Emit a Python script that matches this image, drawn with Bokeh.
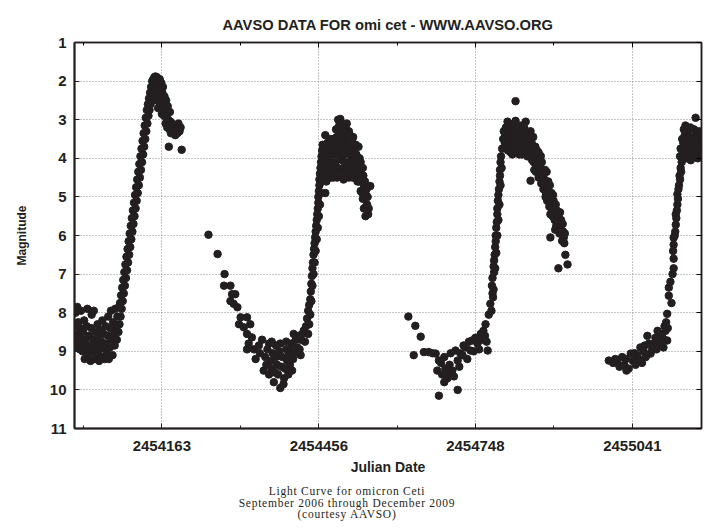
from bokeh.plotting import figure
from bokeh.layouts import column
from bokeh.models import (Range1d, FixedTicker, LinearAxis, BasicTickFormatter,
                          CustomJSTickFormatter, Div)
from bokeh.embed import file_html
from bokeh.resources import INLINE

# ---- data: Julian Date and visual magnitude ----
c1_jd = [2454000, 2454001, 2454002, 2454003, 2454004, 2454005, 2454007, 2454009, 2454010, 2454011,
         2454012, 2454014, 2454015, 2454016, 2454018, 2454019, 2454020, 2454022, 2454023, 2454024,
         2454026, 2454027, 2454028, 2454030, 2454031, 2454032, 2454034, 2454035, 2454036, 2454038,
         2454039, 2454040, 2454042, 2454043, 2454044, 2454046, 2454047, 2454048, 2454050, 2454051,
         2454052, 2454054, 2454055, 2454056, 2454058, 2454059, 2454060, 2454062, 2454063, 2454064,
         2454066, 2454067, 2454068, 2454070, 2454071, 2454072, 2454074, 2454075, 2454076, 2454078,
         2454079, 2454080, 2454082, 2454083, 2454084,
         2454085, 2454086, 2454087, 2454088, 2454089, 2454090, 2454091, 2454092, 2454093, 2454094,
         2454095, 2454096, 2454097, 2454098, 2454099, 2454100, 2454101, 2454102, 2454103, 2454104,
         2454105, 2454106, 2454107, 2454108, 2454109, 2454110, 2454111, 2454112, 2454113, 2454114,
         2454115, 2454116, 2454117, 2454118, 2454119, 2454120, 2454121, 2454122, 2454123, 2454124,
         2454125, 2454126, 2454127, 2454128, 2454129, 2454130, 2454131, 2454132, 2454133, 2454134,
         2454135, 2454136, 2454137, 2454138, 2454139, 2454140, 2454141, 2454142, 2454143, 2454144,
         2454145, 2454146, 2454147, 2454148, 2454149, 2454150, 2454151, 2454152, 2454153, 2454154,
         2454155, 2454156, 2454157, 2454158, 2454159, 2454160, 2454161, 2454162, 2454163, 2454164,
         2454165, 2454166, 2454167, 2454168, 2454169, 2454170, 2454171, 2454172, 2454173, 2454174,
         2454175, 2454176, 2454177, 2454178, 2454179, 2454180, 2454182, 2454184, 2454186, 2454188,
         2454190, 2454192, 2454194, 2454196, 2454198, 2454200]
c1_mag = [8.35, 8.75, 8.0, 8.9, 8.55, 7.85, 8.25, 8.65, 8.95, 8.4,
          7.95, 8.8, 9.0, 8.5, 8.2, 9.2, 8.7, 8.95, 8.35, 7.9,
          9.1, 8.6, 8.85, 9.25, 8.4, 8.05, 9.0, 8.7, 7.95, 9.2,
          8.5, 8.85, 9.1, 8.3, 8.65, 9.25, 8.95, 8.45, 8.75, 9.15,
          8.2, 8.9, 8.55, 9.2, 8.35, 8.8, 9.05, 8.6, 8.1, 9.2,
          8.9, 8.4, 7.95, 8.7, 9.1, 8.25, 8.55, 8.85, 7.9, 8.4,
          8.7, 8.1, 8.5, 7.85, 8.3,
          7.75, 8.1, 7.55, 7.9, 7.35, 7.7, 7.15, 7.5, 6.95, 7.3,
          6.75, 7.1, 6.55, 6.9, 6.35, 6.7, 6.15, 6.5, 5.95, 6.3,
          5.75, 6.1, 5.55, 5.9, 5.35, 5.7, 5.15, 5.5, 4.95, 5.3,
          4.75, 5.1, 4.55, 4.9, 4.35, 4.7, 4.15, 4.5, 3.95, 4.3,
          3.75, 4.1, 3.55, 3.9, 3.35, 3.7, 3.15, 3.5, 2.95, 3.3,
          2.75, 3.1, 2.6, 2.9, 2.45, 2.75, 2.3, 2.6, 2.15, 2.45,
          2.0, 2.3, 1.95, 2.15, 1.9, 2.35, 1.88, 2.1, 2.5, 1.9,
          2.2, 2.7, 2.0, 2.4, 1.95, 2.25, 2.6, 2.05, 2.85, 2.3,
          2.15, 2.55, 2.9, 2.4, 2.7, 3.1, 2.5, 2.85, 3.2, 2.65,
          3.0, 3.7, 3.25, 2.8, 3.05, 3.35, 3.1, 3.3, 3.15, 3.4,
          3.2, 3.35, 3.1, 3.3, 3.2, 3.78]

c2_jd = [2454250, 2454267, 2454280, 2454279, 2454291, 2454294, 2454300, 2454291, 2454297, 2454304,
         2454310, 2454322, 2454307, 2454316, 2454328, 2454322, 2454331, 2454325, 2454322, 2454338,
         2454335, 2454344, 2454350, 2454363, 2454384, 2454356, 2454353, 2454363, 2454372, 2454384,
         2454391, 2454378, 2454397, 2454406, 2454403, 2454409, 2454416, 2454422, 2454428, 2454422,
         2454346, 2454358, 2454360, 2454366, 2454368, 2454370, 2454374, 2454376, 2454380, 2454382,
         2454386, 2454388, 2454390, 2454393, 2454395, 2454399, 2454400, 2454402, 2454405, 2454408,
         2454411, 2454413, 2454418, 2454420, 2454425, 2454430, 2454432, 2454436, 2454376, 2454368,
         2454395, 2454434, 2454436, 2454438, 2454440, 2454441, 2454442, 2454443, 2454444, 2454445,
         2454446, 2454447, 2454448, 2454449, 2454450, 2454451, 2454452, 2454453, 2454454, 2454455,
         2454455, 2454456, 2454457, 2454457, 2454458, 2454459, 2454460, 2454461, 2454462, 2454463,
         2454438, 2454440, 2454442, 2454444, 2454446, 2454448, 2454450, 2454452, 2454454, 2454456,
         2454458, 2454460, 2454462, 2454464, 2454466, 2454484, 2454492, 2454496, 2454512, 2454465,
         2454468, 2454470, 2454472, 2454474, 2454476, 2454478, 2454480, 2454482, 2454486, 2454488,
         2454490, 2454494, 2454498, 2454500, 2454502, 2454504, 2454506, 2454508, 2454510, 2454514,
         2454516, 2454518, 2454520, 2454522, 2454524, 2454526, 2454528, 2454530, 2454532, 2454534,
         2454536, 2454538, 2454540, 2454540, 2454543, 2454544, 2454546, 2454548, 2454552, 2454478,
         2454484, 2454490, 2454496, 2454502, 2454508, 2454512, 2454470, 2454468, 2454466, 2454488,
         2454500, 2454506,
         2454466, 2454468, 2454471, 2454473, 2454475, 2454477, 2454479, 2454481, 2454483, 2454485,
         2454487, 2454489, 2454491, 2454493, 2454495, 2454497, 2454499, 2454501, 2454503, 2454505,
         2454507, 2454509, 2454511, 2454513, 2454515, 2454517, 2454519, 2454521, 2454523, 2454525,
         2454527, 2454529, 2454531, 2454533, 2454535, 2454537, 2454539, 2454541, 2454542, 2454545,
         2454547, 2454549, 2454520, 2454510, 2454526, 2454530, 2454534, 2454538, 2454544, 2454494,
         2454498, 2454504, 2454508, 2454514, 2454518]
c2_mag = [5.98, 6.48, 7.0, 7.3, 7.3, 7.52, 7.52, 7.7, 7.77, 7.86,
          8.12, 8.12, 8.3, 8.38, 8.3, 8.55, 8.64, 8.8, 8.95, 9.2,
          8.95, 8.85, 8.7, 8.8, 8.8, 9.15, 9.5, 9.6, 9.8, 9.95,
          9.7, 9.35, 9.25, 9.5, 8.98, 8.55, 8.9, 8.7, 8.46, 9.1,
          9.05, 9.35, 8.95, 9.25, 9.45, 9.05, 9.55, 9.15, 9.6, 9.0,
          9.4, 9.15, 9.85, 9.45, 8.95, 9.6, 9.1, 9.35, 8.8, 9.2,
          9.05, 8.7, 8.6, 8.95, 8.55, 8.75, 8.35, 8.55, 8.85, 8.75,
          8.75, 8.15, 7.95, 7.8, 7.65, 7.45, 7.25, 7.05, 6.85, 6.7,
          6.5, 6.35, 6.2, 6.05, 5.9, 5.75, 5.6, 5.45, 5.3, 5.15,
          5.0, 4.85, 4.7, 4.55, 4.4, 4.25, 4.1, 3.95, 3.8, 3.65,
          8.3, 8.05, 7.7, 7.3, 7.0, 6.7, 6.4, 6.1, 5.8, 5.5,
          5.2, 4.9, 4.6, 4.3, 4.0, 3.5, 3.0, 2.98, 3.3, 3.7,
          3.4, 4.0, 3.6, 4.3, 3.8, 3.5, 4.1, 3.7, 3.9, 4.2,
          3.6, 3.4, 3.75, 4.05, 3.55, 4.3, 3.85, 3.6, 4.1, 3.9,
          4.4, 3.7, 4.2, 3.95, 4.5, 4.15, 4.6, 4.35, 4.0, 4.85,
          4.55, 5.05, 4.7, 5.3, 5.5, 4.95, 5.2, 5.45, 4.72, 4.5,
          4.35, 4.5, 4.3, 4.55, 4.45, 4.5, 4.6, 4.9, 4.45, 3.25,
          3.3, 3.2,
          3.9, 4.15, 3.75, 4.45, 4.05, 3.65, 4.25, 3.9, 4.5, 3.6,
          4.1, 3.45, 3.85, 4.4, 3.7, 4.0, 3.5, 4.25, 3.9, 4.5,
          3.7, 4.2, 3.5, 4.35, 3.75, 4.05, 4.5, 3.85, 4.3, 3.65,
          4.45, 4.0, 4.6, 4.25, 4.4, 4.9, 4.45, 5.0, 4.6, 4.8,
          5.0, 5.3, 3.45, 3.3, 3.9, 3.7, 4.1, 4.25, 5.25, 3.15,
          3.1, 3.35, 3.1, 3.4, 3.5]

c3_jd = [2454623, 2454636, 2454646, 2454633, 2454652, 2454661, 2454674, 2454680, 2454677, 2454686,
         2454696, 2454680, 2454715, 2454705, 2454715, 2454711, 2454724, 2454730, 2454739, 2454742,
         2454752, 2454758, 2454763, 2454771, 2454767, 2454773, 2454668, 2454684, 2454690, 2454692,
         2454700, 2454702, 2454708, 2454718, 2454720, 2454726, 2454733, 2454736, 2454745, 2454748,
         2454755, 2454760, 2454766, 2454769, 2454690, 2454697, 2454776, 2454780, 2454782, 2454780,
         2454782, 2454784, 2454786, 2454787, 2454789, 2454790, 2454792, 2454794, 2454795, 2454798,
         2454800, 2454801, 2454778, 2454779, 2454781, 2454783, 2454783, 2454785, 2454786, 2454788,
         2454789, 2454791, 2454793, 2454794, 2454796, 2454797, 2454795, 2454793, 2454791, 2454789,
         2454787, 2454785, 2454808, 2454823, 2454823, 2454842, 2454851, 2454804, 2454806, 2454810,
         2454812, 2454814, 2454816, 2454818, 2454820, 2454826, 2454828, 2454830, 2454832, 2454834,
         2454836, 2454838, 2454840, 2454844, 2454846, 2454848, 2454850, 2454853, 2454855, 2454857,
         2454851, 2454864, 2454870, 2454875, 2454882, 2454888, 2454870, 2454876, 2454882, 2454888,
         2454895, 2454901, 2454907, 2454910, 2454888, 2454916, 2454920, 2454903, 2454860, 2454862,
         2454866, 2454868, 2454872, 2454874, 2454878, 2454880, 2454884, 2454886, 2454890, 2454892,
         2454894, 2454897, 2454899, 2454903, 2454905, 2454908, 2454912, 2454914, 2454858, 2454856,
         2454866, 2454879, 2454897,
         2454803, 2454805, 2454807, 2454809, 2454811, 2454813, 2454815, 2454817, 2454819, 2454821,
         2454822, 2454824, 2454825, 2454827, 2454829, 2454831, 2454833, 2454835, 2454837, 2454839,
         2454841, 2454843, 2454845, 2454847, 2454849, 2454852, 2454854, 2454856, 2454859, 2454861,
         2454863, 2454865, 2454867, 2454869, 2454871, 2454873, 2454877, 2454881, 2454883, 2454885,
         2454887, 2454889, 2454891, 2454893, 2454896, 2454898, 2454900, 2454902, 2454904, 2454906,
         2454909, 2454911, 2454913, 2454915]
c3_mag = [8.1, 8.34, 8.62, 9.1, 9.02, 9.02, 9.06, 9.24, 9.5, 9.6,
          9.7, 10.15, 10.0, 9.5, 9.24, 8.98, 9.1, 8.9, 8.98, 8.72,
          8.8, 8.55, 8.47, 8.98, 8.3, 8.05, 9.05, 9.3, 9.15, 9.45,
          9.35, 9.05, 9.65, 9.4, 9.05, 8.85, 9.2, 8.75, 9.0, 8.65,
          8.95, 8.7, 8.6, 8.75, 9.8, 9.55, 7.77, 7.5, 7.4, 7.1,
          6.8, 6.5, 6.15, 5.8, 5.45, 5.1, 4.8, 4.45, 4.1, 3.75,
          3.5, 3.3, 7.95, 7.3, 7.6, 6.95, 6.65, 6.3, 6.0, 5.65,
          5.3, 4.95, 4.6, 4.3, 3.95, 4.25, 4.7, 5.2, 5.6, 6.0,
          6.45, 6.85, 3.05, 3.03, 2.52, 3.05, 3.3, 3.4, 3.7, 3.3,
          3.6, 3.85, 3.2, 3.5, 3.75, 3.3, 3.6, 3.9, 3.4, 3.15,
          3.65, 3.35, 3.8, 3.5, 3.75, 3.4, 3.95, 3.6, 3.85, 4.1,
          4.58, 4.0, 4.45, 4.8, 5.1, 5.45, 3.94, 4.4, 4.7, 5.05,
          5.3, 5.6, 5.8, 6.14, 6.05, 6.5, 6.75, 6.85, 3.7, 4.2,
          3.85, 4.25, 4.1, 4.55, 4.3, 4.9, 4.6, 5.25, 4.9, 5.5,
          5.1, 5.45, 5.75, 5.5, 5.95, 5.6, 5.9, 6.2, 4.3, 3.45,
          4.5, 5.0, 5.85,
          3.6, 3.2, 3.45, 3.8, 3.1, 3.35, 3.65, 3.9, 3.25, 3.55,
          3.1, 3.4, 3.8, 3.15, 3.45, 3.7, 3.25, 3.9, 3.5, 3.2,
          3.6, 3.3, 3.95, 3.55, 3.7, 3.45, 4.05, 3.75, 3.95, 4.35,
          3.8, 4.15, 4.4, 4.0, 4.65, 4.3, 4.55, 4.35, 4.85, 4.95,
          4.7, 5.2, 5.35, 4.95, 5.6, 5.2, 5.35, 5.85, 5.7, 5.4,
          5.95, 5.7, 6.05, 5.95]

c4_jd = [2454997, 2455013, 2455022, 2455034, 2455038, 2455050, 2455056, 2455059, 2455069, 2455075,
         2455081, 2455090, 2455088, 2455097, 2455103, 2455106, 2455106, 2455109, 2455109, 2455116,
         2455118, 2455118, 2455118, 2455118, 2455122, 2455122, 2455125, 2455125, 2455128, 2455129,
         2455131, 2455134, 2455131, 2455134, 2455137, 2455005, 2455009, 2455017, 2455026, 2455029,
         2455030, 2455042, 2455045, 2455047, 2455053, 2455062, 2455064, 2455066, 2455072, 2455078,
         2455084, 2455086, 2455093, 2455095, 2455100, 2455101, 2455104, 2455099, 2455107, 2455112,
         2455114, 2455117, 2455120, 2455121, 2455123, 2455124, 2455126, 2455127, 2455130, 2455132,
         2455133, 2455135, 2455130, 2455136, 2455138, 2455139, 2455140, 2455142, 2455143, 2455144,
         2455146, 2455148, 2455149, 2455150, 2455152, 2455154, 2455155, 2455156, 2455158, 2455159,
         2455160, 2455162, 2455163, 2455164, 2455166, 2455167, 2455168, 2455169, 2455170, 2455171]
c4_mag = [9.24, 9.3, 9.15, 9.45, 9.06, 9.1, 8.9, 9.3, 8.6, 9.06,
          8.8, 8.72, 8.47, 8.64, 8.47, 8.72, 8.03, 7.56, 7.35, 7.0,
          6.85, 6.6, 6.24, 6.06, 5.72, 5.45, 5.2, 4.93, 4.7, 4.45,
          4.25, 4.0, 3.75, 3.5, 3.25, 9.3, 9.2, 9.4, 9.35, 9.2,
          9.5, 9.25, 9.05, 9.35, 9.2, 9.0, 8.85, 9.15, 8.8, 8.95,
          8.65, 8.95, 8.55, 8.85, 8.7, 8.35, 8.25, 8.9, 8.4, 7.2,
          7.75, 6.4, 6.0, 5.9, 5.55, 5.35, 5.05, 4.8, 4.55, 4.35,
          4.1, 3.85, 3.95, 3.6, 3.9, 3.4, 3.15, 3.7, 4.0, 3.3,
          3.55, 3.85, 3.2, 4.05, 3.45, 3.7, 3.95, 3.25, 3.55, 2.95,
          3.8, 3.35, 4.0, 3.6, 3.3, 3.85, 3.5, 3.7, 3.95, 3.4]

x_ticks = [2454163, 2454456, 2454748, 2455041]
x_minor = [2454016.5, 2454309.5, 2454602, 2454894.5]
y_ticks = [1, 2, 3, 4, 5, 6, 7, 8, 9, 10, 11]

title_text = "AAVSO DATA FOR omi cet - WWW.AAVSO.ORG"
x_label = "Julian Date"
y_label = "Magnitude"
caption = ["Light Curve for omicron Ceti",
           "September 2006 through December 2009",
           "(courtesy AAVSO)"]

for a, b in ((c1_jd, c1_mag), (c2_jd, c2_mag), (c3_jd, c3_mag), (c4_jd, c4_mag)):
    assert len(a) == len(b), (len(a), len(b))

jd = c1_jd + c2_jd + c3_jd + c4_jd
mag = c1_mag + c2_mag + c3_mag + c4_mag

INK = "#231f20"
SANS = "Liberation Sans"

p = figure(width=708, height=478, output_backend="svg", toolbar_location=None,
           x_range=Range1d(2454000, 2455170), y_range=Range1d(11, 1),
           min_border_left=74, min_border_right=7, min_border_top=42, min_border_bottom=50,
           background_fill_color="white", border_fill_color="white")

p.title.text = title_text
p.title.align = "center"
p.title.text_font = SANS
p.title.text_font_size = "14.7px"
p.title.text_font_style = "bold"
p.title.text_color = INK
p.title.standoff = 20

p.scatter(jd, mag, size=7.5, color=INK, line_color=INK)

xt = FixedTicker(ticks=x_ticks, minor_ticks=x_minor)
yt = FixedTicker(ticks=y_ticks, minor_ticks=[])

for ax in (p.xaxis[0], p.yaxis[0]):
    ax.major_tick_in = 5
    ax.major_tick_out = 0
    ax.minor_tick_in = 3
    ax.minor_tick_out = 0
    ax.axis_line_width = 2
    ax.axis_line_color = INK
    ax.major_tick_line_color = INK
    ax.minor_tick_line_color = INK
    ax.major_label_text_font = SANS
    ax.major_label_text_font_size = "15px"
    ax.major_label_text_font_style = "bold"
    ax.major_label_text_color = INK
    ax.axis_label_text_font = SANS
    ax.axis_label_text_font_style = "bold"
    ax.axis_label_text_color = INK

p.xaxis[0].ticker = xt
p.xaxis[0].formatter = BasicTickFormatter(use_scientific=False)
p.xaxis[0].major_label_standoff = 12
p.xaxis[0].axis_label = x_label
p.xaxis[0].axis_label_text_font_size = "14px"
p.xaxis[0].axis_label_standoff = 5

p.yaxis[0].ticker = yt
p.yaxis[0].major_label_standoff = 8
p.yaxis[0].axis_label = y_label
p.yaxis[0].axis_label_text_font_size = "12px"
p.yaxis[0].axis_label_standoff = 18

blank = CustomJSTickFormatter(code="return ''")
top = LinearAxis(ticker=xt, formatter=blank, major_tick_in=5, major_tick_out=0,
                 minor_tick_in=3, minor_tick_out=0, axis_line_color=INK, axis_line_width=1.5,
                 major_label_standoff=0)
right = LinearAxis(ticker=yt, formatter=blank, major_tick_in=5, major_tick_out=0,
                   minor_tick_in=0, minor_tick_out=0, axis_line_color=INK, axis_line_width=1.5,
                   major_label_standoff=0)
p.add_layout(top, "above")
p.add_layout(right, "right")

p.xgrid.ticker = xt
p.ygrid.ticker = yt
for g in (p.xgrid[0], p.ygrid[0]):
    g.grid_line_color = "#8c8c8c"
    g.grid_line_dash = "1 2"
    g.grid_line_width = 1

p.outline_line_color = INK
p.outline_line_width = 1.5

cap = Div(text="<br>".join(caption), width=694, height=51,
          styles={"text-align": "center", "font-family": "Liberation Serif",
                  "font-size": "11.5px", "line-height": "11.7px", "letter-spacing": "0.75px",
                  "color": INK, "padding-top": "8px", "margin": "0"})

layout = column(p, cap, spacing=0)
open("out.html", "w").write(file_html(layout, INLINE))
